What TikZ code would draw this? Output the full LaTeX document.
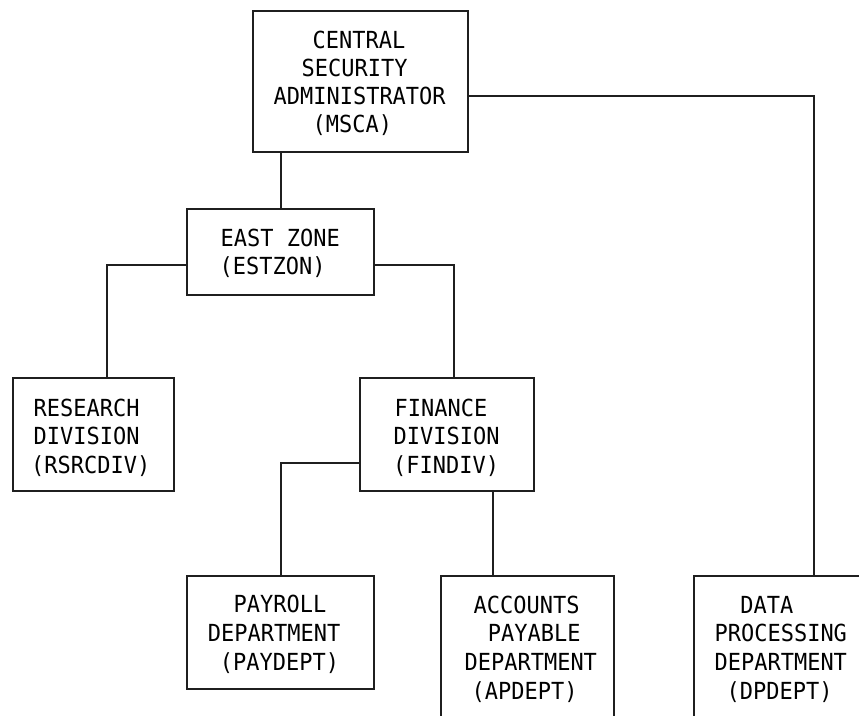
\documentclass[tikz,border=0pt]{standalone}
\usepackage{fontspec}
\setmonofont{DejaVu Sans Mono}
\begin{document}
\begin{tikzpicture}[x=1pt,y=-1pt,
  box/.style={draw=black!88,line width=1.6pt,inner sep=0pt,rectangle},
  conn/.style={draw=black!88,line width=1.6pt},
  lbl/.style={inner sep=0pt,anchor=base west,xscale=0.935,transform shape,font=\ttfamily\fontsize{23.5}{28}\selectfont,text=black}]
\useasboundingbox (0,0) rectangle (859,715);
\clip (0,0) rectangle (859,715);
% boxes
\node[box,minimum width=215pt,minimum height=141pt] (msca) at (360.5,81.5) {};
\node[box,minimum width=187pt,minimum height=86pt] (ez) at (280.5,252) {};
\node[box,minimum width=161pt,minimum height=113pt] (rs) at (93.5,434.5) {};
\node[box,minimum width=174pt,minimum height=113pt] (fin) at (447,434.5) {};
\node[box,minimum width=187pt,minimum height=113pt] (pay) at (280.5,632.5) {};
\node[box,minimum width=173pt,minimum height=184pt] (ap) at (527.5,668) {};
\node[box,minimum width=206pt,minimum height=184pt] (dp) at (797,668) {};
% junction coordinates
\coordinate (c0) at (281,180);
\coordinate (c1) at (107,265);
\coordinate (c2) at (454,265);
\coordinate (c3) at (281,463);
\coordinate (c4) at (493,530);
\coordinate (c5) at (814,96);
% connectors
\draw[conn] (ez.north -| c0) -- (msca.south -| c0);
\draw[conn] (ez.west |- c1) -| (rs.north -| c1);
\draw[conn] (ez.east |- c2) -| (fin.north -| c2);
\draw[conn] (fin.west |- c3) -| (pay.north -| c3);
\draw[conn] (fin.south -| c4) -- (ap.north -| c4);
\draw[conn] (msca.east |- c5) -| (dp.north -| c5);
% texts
\node[lbl] (m1) at (312.5,48) {CENTRAL};
\node[lbl] (m2) at (301.5,76) {SECURITY};
\node[lbl] (m3) at (273.5,104) {ADMINISTRATOR};
\node[lbl] (m4) at (312.5,132) {(MSCA)};
\node[lbl] (e1) at (220.5,246) {EAST ZONE};
\node[lbl] (e2) at (219.5,274) {(ESTZON)};
\node[lbl] (r1) at (33.5,416) {RESEARCH};
\node[lbl] (r2) at (33.5,444.5) {DIVISION};
\node[lbl] (r3) at (31,473) {(RSRCDIV)};
\node[lbl] (f1) at (394.5,416) {FINANCE};
\node[lbl] (f2) at (393.5,444.5) {DIVISION};
\node[lbl] (f3) at (393,473) {(FINDIV)};
\node[lbl] (p1) at (233.5,612.5) {PAYROLL};
\node[lbl] (p2) at (207.8,641.5) {DEPARTMENT};
\node[lbl] (p3) at (219.8,670) {(PAYDEPT)};
\node[lbl] (a1) at (473.5,613) {ACCOUNTS};
\node[lbl] (a2) at (487.8,641.5) {PAYABLE};
\node[lbl] (a3) at (464.5,670.5) {DEPARTMENT};
\node[lbl] (a4) at (471.5,699) {(APDEPT)};
\node[lbl] (d1) at (740.2,613) {DATA};
\node[lbl] (d2) at (714.5,641.5) {PROCESSING};
\node[lbl] (d3) at (714.5,670.5) {DEPARTMENT};
\node[lbl] (d4) at (726.5,699) {(DPDEPT)};
\end{tikzpicture}
\end{document}
